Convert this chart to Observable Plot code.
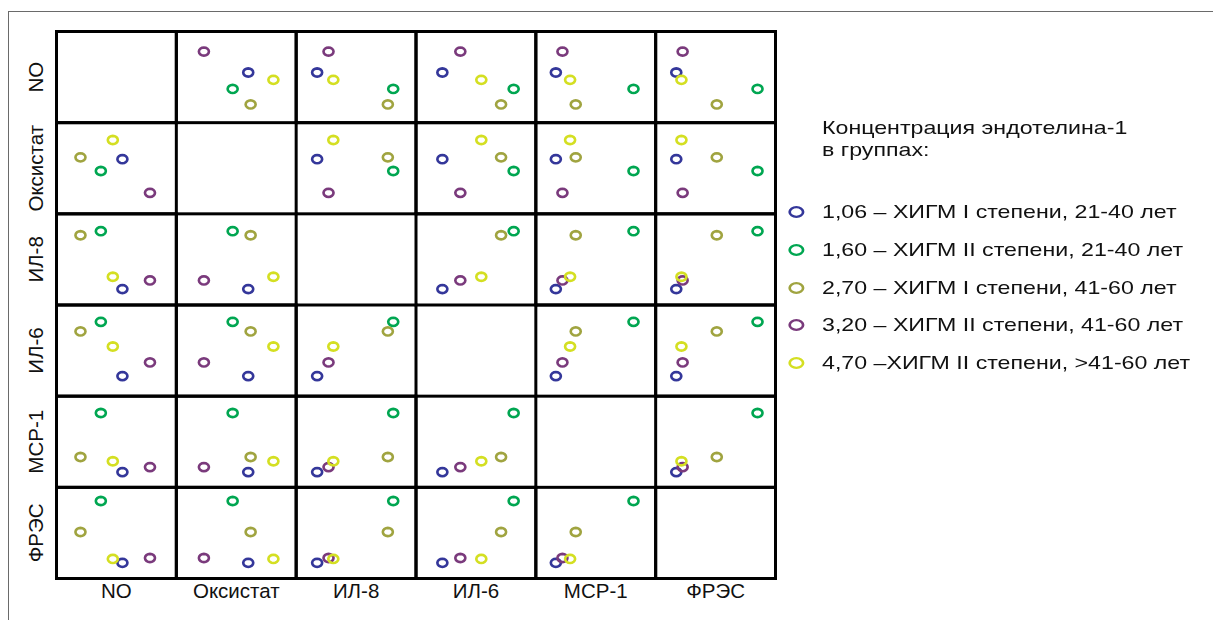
<!DOCTYPE html>
<html>
<head>
<meta charset="utf-8">
<script src="https://cdn.jsdelivr.net/npm/d3@7"></script>
<script src="https://cdn.jsdelivr.net/npm/@observablehq/plot@0.6"></script>
<style>
  html, body { margin: 0; padding: 0; background: #fff; }
  #wrap { position: relative; width: 1213px; height: 620px; overflow: hidden; font-family: "Liberation Sans", Arial, sans-serif; color: #111; }
  #border { position: absolute; left: 8px; top: 11px; width: 1210px; height: 620px; border-top: 1.5px solid #6a6a6a; border-left: 1.5px solid #6a6a6a; }
  #chart { position: absolute; left: 0; top: 0; }
  #legend { position: absolute; left: 822px; top: 117px; font-size: 19px; line-height: 22px; transform: scaleX(1.22); transform-origin: 0 0; }
  .item { position: absolute; left: 0; white-space: nowrap; }
  .item svg { position: absolute; left: -30px; top: 4px; }
</style>
</head>
<body>
<div id="wrap">
  <div id="border"></div>
  <div id="chart"></div>
  <div id="legend"></div>
</div>
<script>
// Variables (matrix rows / columns)
const variables = ["NO", "Оксистат", "ИЛ-8", "ИЛ-6", "MCP-1", "ФРЭС"];
// Groups (endothelin-1 concentration)
const groups = ["1,06", "1,60", "2,70", "3,20", "4,70"];
const groupLabels = [
  "1,06 – ХИГМ I степени, 21-40 лет",
  "1,60 – ХИГМ II степени, 21-40 лет",
  "2,70 – ХИГМ I степени, 41-60 лет",
  "3,20 – ХИГМ II степени, 41-60 лет",
  "4,70 –ХИГМ II степени, >41-60 лет"
];
const groupColors = ["#34379a", "#00a651", "#a0a440", "#7a3a7c", "#d4df22"];
const legendTitle = ["Концентрация эндотелина-1", "в группах:"];

// Relative level of each variable per group (0–100), order = groups
const valNO       = [55, 37, 20, 78, 47];
const valOxistat  = [60, 47, 62, 23, 81];
const valIL8      = [17.5, 81, 76.5, 27, 31];
const valIL6      = [22, 81.5, 71, 37, 54.5];
const valMCP1     = [16.7, 81.5, 33.3, 22.2, 28.6];
const valFRES     = [17.2, 85, 51, 22.5, 21.5];
const valuesByVar = [valNO, valOxistat, valIL8, valIL6, valMCP1, valFRES];

// Build scatterplot-matrix table
const rows = [];
variables.forEach((rv, i) => {
  variables.forEach((cv, j) => {
    if (i === j) return;
    groups.forEach((g, k) => {
      rows.push({fx: cv, fy: rv, x: valuesByVar[j][k], y: valuesByVar[i][k], group: g});
    });
  });
});

// Slightly flattened ring marker
const ringSymbol = {
  draw(context, size) {
    const r = Math.sqrt(size / Math.PI);
    const rx = r * 1.22, ry = r;
    const n = 16;
    for (let t = 0; t < n; ++t) {
      const a = (t / n) * 2 * Math.PI;
      const px = rx * Math.cos(a), py = ry * Math.sin(a);
      if (t === 0) context.moveTo(px, py); else context.lineTo(px, py);
    }
    context.closePath();
  }
};

const chart = Plot.plot({
  width: 780,
  height: 615,
  marginLeft: 56,
  marginTop: 31,
  marginRight: 5,
  marginBottom: 37,
  style: {fontFamily: "Liberation Sans, Arial, sans-serif", background: "transparent"},
  fx: {domain: variables, padding: 0, round: false, axis: null},
  fy: {domain: variables, padding: 0, round: false, axis: null},
  x: {domain: [0, 100], axis: null},
  y: {domain: [0, 100], axis: null},
  color: {domain: groups, range: groupColors},
  marks: [
    Plot.frame({stroke: "#000", strokeWidth: 3}),
    Plot.dot(rows, {fx: "fx", fy: "fy", x: "x", y: "y", stroke: "group", r: 4.1, strokeWidth: 2.6, symbol: ringSymbol}),
    Plot.text(variables, {fx: d => d, fy: () => variables[variables.length - 1], text: d => d,
      frameAnchor: "bottom", dy: 19, fontSize: 20.5, fill: "#111"}),
    Plot.text(variables, {fx: () => variables[0], fy: d => d, text: d => d,
      frameAnchor: "left", dx: -20, rotate: -90, textAnchor: "middle", fontSize: 20.5, fill: "#111"})
  ]
});
document.getElementById("chart").appendChild(chart);

// Legend
const legend = document.getElementById("legend");
legendTitle.forEach((t, i) => {
  const d = document.createElement("div");
  d.className = "item";
  d.style.top = (i * 22) + "px";
  d.textContent = t;
  legend.appendChild(d);
});
groupLabels.forEach((lab, k) => {
  const d = document.createElement("div");
  d.className = "item";
  d.style.top = (84 + k * 37.8) + "px";
  const ns = "http://www.w3.org/2000/svg";
  const s = document.createElementNS(ns, "svg");
  s.setAttribute("width", 18); s.setAttribute("height", 14);
  const e = document.createElementNS(ns, "ellipse");
  e.setAttribute("cx", 9); e.setAttribute("cy", 7);
  e.setAttribute("rx", 5.5); e.setAttribute("ry", 4.8);
  e.setAttribute("fill", "none");
  e.setAttribute("stroke", groupColors[k]);
  e.setAttribute("stroke-width", 2.2);
  s.appendChild(e);
  d.appendChild(s);
  d.appendChild(document.createTextNode(lab));
  legend.appendChild(d);
});
</script>
</body>
</html>
